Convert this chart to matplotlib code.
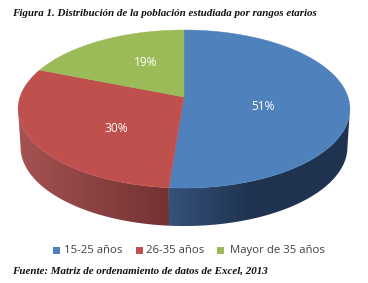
import numpy as np
import matplotlib
matplotlib.use("Agg")
import matplotlib.pyplot as plt
from matplotlib.patches import Polygon, Rectangle
from matplotlib.colors import to_rgb

# ============================================================
# DATA
# ============================================================

categories = ["15-25 años", "26-35 años", "Mayor de 35 años"]
values = [51.25, 29.75, 19]
labels = ["51%", "30%", "19%"]
colors = ["#4f81bd", "#c0504d", "#9bbb59"]

# wall shading: screen x positions and the colour at each
blue_x = [169, 250, 352]
blue_wall = ["#34527a", "#1f3350", "#1f3350"]
red_x = [18, 169]
red_wall = ["#a55352", "#733132"]

title = "Figura 1. Distribución de la población estudiada por rangos etarios"
source = "Fuente: Matriz de ordenamiento de datos de Excel, 2013"

# ============================================================
# PROJECTION
# ============================================================

cx, cy = 184, 97
R, B, k = 164, 77.2, 0.152
depth = 38
shrink = 0.985


def project(a, scale=1.0):
    # angle in degrees, clockwise from the top of the pie
    t = np.radians(90 - np.asarray(a, dtype=float))
    x, y = np.cos(t), np.sin(t)
    w = 1 + k * y
    return cx + scale * R * x / w, cy - B * y / w


def wall(a0, a1, xs, cols):
    # wall between two angles, shaded along screen x
    angles = np.linspace(a0, a1, 150)
    x0, y0 = project(angles)
    x1, y1 = project(angles, shrink)
    pts = list(zip(x0, y0)) + list(zip(x1[::-1], y1[::-1] + depth))
    poly = Polygon(pts, facecolor="none", edgecolor="none", transform=ax.transData)
    ax.add_patch(poly)
    grid = np.arange(0, 368, 0.5)
    rgb = np.array([to_rgb(c) for c in cols])
    img = np.stack([np.interp(grid, xs, rgb[:, j]) for j in range(3)], axis=-1)[None, :, :]
    im = ax.imshow(img, extent=[0, 368, 283, 0], aspect="auto", zorder=1,
                   interpolation="bilinear")
    im.set_clip_path(poly)


fig = plt.figure(figsize=(3.68, 2.83), dpi=100)
ax = fig.add_axes([0, 0, 1, 1])

edges = np.cumsum([0] + values) / sum(values) * 360

# ============================================================
# SIDE WALL
# ============================================================

# the wall starts where the top ellipse is widest
widest = 90 + np.degrees(np.arcsin(k))
wall(widest, edges[1], blue_x, blue_wall)
wall(edges[1], 360 - widest, red_x, red_wall)

# ============================================================
# TOP FACE
# ============================================================

for i in range(len(values)):
    angles = np.linspace(edges[i], edges[i + 1], 120)
    x, y = project(angles)
    pts = [(cx, cy)] + list(zip(x, y))
    ax.add_patch(Polygon(pts, facecolor=colors[i], edgecolor=colors[i],
                         linewidth=0.3, zorder=2))

label_pos = [(263, 106), (116, 128), (146, 63)]
for txt, (lx, ly) in zip(labels, label_pos):
    ax.text(lx, ly, txt, color="white", fontsize=8.6, family="Open Sans",
            ha="center", va="center", zorder=3)

# ============================================================
# LEGEND AND TEXTS
# ============================================================

swatch_x = [53, 136, 217]
text_x = [64, 146, 230]
for name, c, sx, tx in zip(categories, colors, swatch_x, text_x):
    ax.add_patch(Rectangle((sx, 247), 7, 7, facecolor=c, edgecolor="none"))
    ax.text(tx, 250.5, name, color="#404040", fontsize=8.2, family="Open Sans",
            ha="left", va="center")

ax.text(12, 13, title, fontsize=7.9, family="Liberation Serif", style="italic",
        weight="bold", color="#111111", ha="left", va="center")
ax.text(12, 271, source, fontsize=7.9, family="Liberation Serif", style="italic",
        weight="bold", color="#111111", ha="left", va="center")

ax.set_xlim(0, 368)
ax.set_ylim(283, 0)
ax.axis("off")

fig.savefig("out.png", dpi=100)
